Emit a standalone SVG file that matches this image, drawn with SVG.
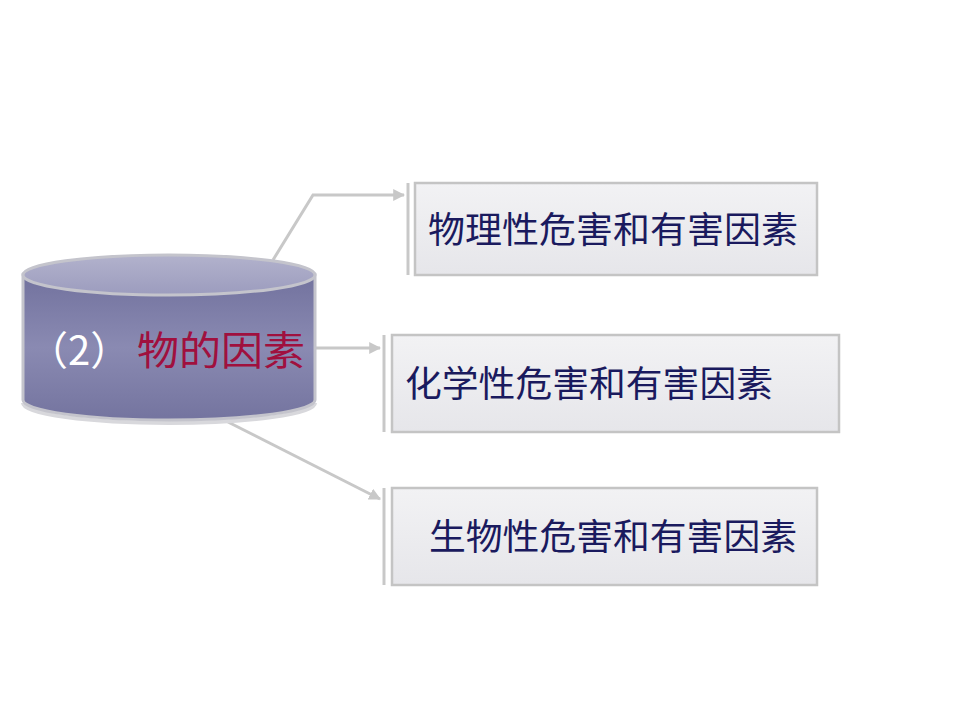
<svg xmlns="http://www.w3.org/2000/svg" width="960" height="720" viewBox="0 0 960 720">
<defs>
<linearGradient id="body" x1="0" y1="0" x2="0" y2="1">
<stop offset="0" stop-color="#72729e"/>
<stop offset="0.5" stop-color="#8a8ab2"/>
<stop offset="1" stop-color="#74749f"/>
</linearGradient>
<linearGradient id="top" x1="0" y1="0" x2="0" y2="1">
<stop offset="0" stop-color="#b2b2cc"/>
<stop offset="1" stop-color="#9c9cbe"/>
</linearGradient>
<linearGradient id="box" x1="0" y1="0" x2="0" y2="1">
<stop offset="0" stop-color="#f2f2f4"/>
<stop offset="1" stop-color="#e6e6ea"/>
</linearGradient>
<marker id="arr" viewBox="0 0 10 10" refX="9" refY="5" markerWidth="4" markerHeight="4" orient="auto" markerUnits="strokeWidth">
<path d="M0,0 L10,5 L0,10 Z" fill="#c8c8c8"/>
</marker>
<style>
.conn{fill:none;stroke:#c8c8c8;stroke-width:3;marker-end:url(#arr)}
.bar{stroke:#c8c8c8;stroke-width:3}
.box{fill:url(#box);stroke:#c4c4c4;stroke-width:2.5}
.lbl{font-family:"Noto Sans CJK SC","Noto Sans CJK TC",sans-serif;font-size:36px;fill:#1a1a5e}
.cyl{font-family:"Noto Sans CJK SC",sans-serif;font-size:40px}
</style>
</defs>
<rect width="960" height="720" fill="#ffffff"/>
<g id="connectors">
<polyline class="conn" points="273,260 313,195 404,195"/>
<line class="conn" x1="315" y1="348" x2="380" y2="348"/>
<line class="conn" x1="228" y1="422" x2="380" y2="499"/>
</g>
<g id="cylinder">
<path d="M23,403 A146,20 0 0 0 315,403" fill="none" stroke="#d8d8dc" stroke-width="4"/>
<path d="M23,275 L23,400 A146,20 0 0 0 315,400 L315,275 Z" fill="url(#body)" stroke="#c4c4cc" stroke-width="3"/>
<ellipse cx="169" cy="275" rx="146" ry="20" fill="url(#top)" stroke="#c4c4cc" stroke-width="3"/>
<text class="cyl" y="365"><tspan x="28" fill="#ffffff">（2）</tspan><tspan x="137" fill="#a0103e" textLength="168" lengthAdjust="spacingAndGlyphs">物的因素</tspan></text>
</g>
<g id="node1">
<line class="bar" x1="408" y1="183" x2="408" y2="275"/>
<rect class="box" x="415" y="183" width="402" height="92"/>
<text class="lbl" x="428" y="243" textLength="370" lengthAdjust="spacingAndGlyphs">物理性危害和有害因素</text>
</g>
<g id="node2">
<line class="bar" x1="384" y1="335" x2="384" y2="432"/>
<rect class="box" x="392" y="335" width="447" height="97"/>
<text class="lbl" x="405" y="397" textLength="368" lengthAdjust="spacingAndGlyphs">化学性危害和有害因素</text>
</g>
<g id="node3">
<line class="bar" x1="384" y1="488" x2="384" y2="585"/>
<rect class="box" x="392" y="488" width="425" height="97"/>
<text class="lbl" x="429" y="550" textLength="368" lengthAdjust="spacingAndGlyphs">生物性危害和有害因素</text>
</g>
</svg>
